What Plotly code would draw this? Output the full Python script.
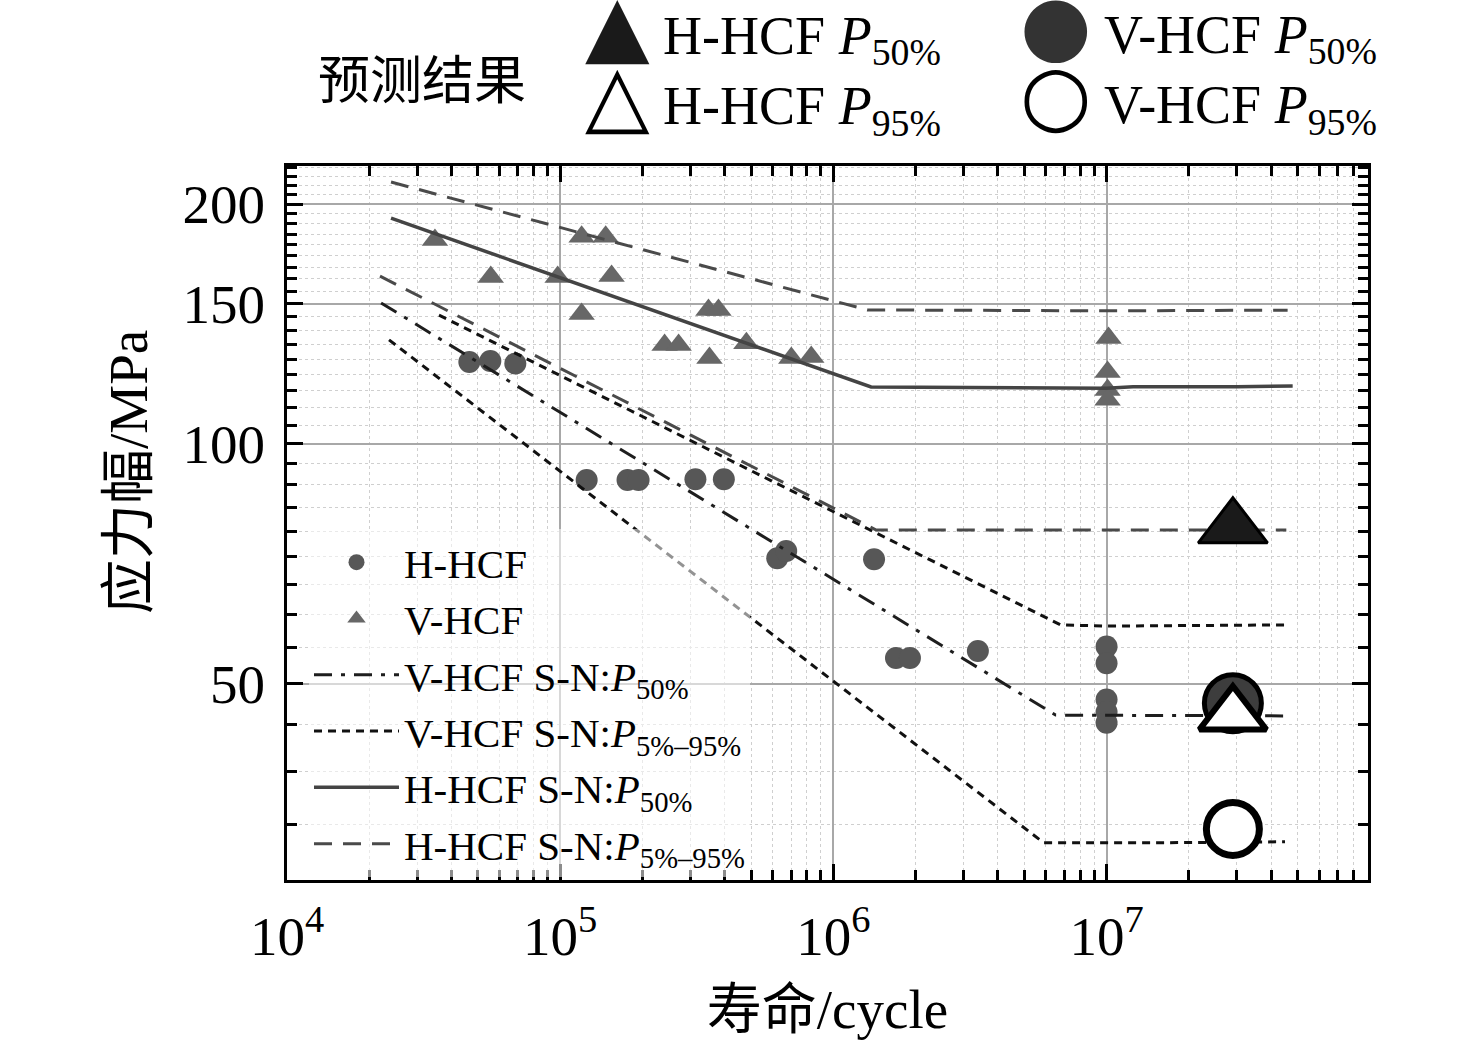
import plotly.graph_objects as go

# ---------------- data ----------------
# scatter labelled "H-HCF" (circles)
h_hcf_life = [46500, 55500, 68500, 125000, 176400, 193600, 312600, 397200,
              623000, 672000, 1409000, 1695000, 1907000, 3380000,
              1.0e7, 1.0e7, 1.0e7, 1.0e7, 1.0e7]
h_hcf_stress = [126.7, 127.1, 126.2, 90.1, 90.1, 90.1, 90.3, 90.3,
                71.9, 73.4, 71.7, 53.9, 53.9, 55.0,
                55.7, 53.1, 47.8, 46.1, 44.7]

# scatter labelled "V-HCF" (triangles)
v_hcf_life = [34800, 55700, 97900, 119800, 146700, 154200, 119800, 349000,
              379600, 241100, 271300, 351900, 480400, 701500, 829900,
              1.017e7, 1.0085e7, 1.0085e7, 1.0085e7]
v_hcf_stress = [180.3, 162.0, 162.0, 181.9, 181.9, 162.4, 145.6, 147.3,
                147.3, 133.1, 133.1, 128.2, 133.8, 128.2, 128.6,
                135.8, 123.1, 116.9, 113.6]

# S-N curves
v_p50_life = [22100, 6510000, 4.43e7]
v_p50_stress = [150.3, 45.7, 45.6]

v_p95_life = [36000, 6790000, 1.0e7, 4.5e7]
v_p95_stress = [145.1, 59.3, 59.1, 59.3]
v_p5_life = [23630, 5890000, 1.4e7, 4.5e7]
v_p5_stress = [135.1, 31.6, 31.6, 31.7]

h_p50_life = [24030, 1374000, 1.0e7, 1.25e7, 3.0e7, 4.8e7]
h_p50_stress = [192.0, 117.9, 117.5, 118.0, 118.0, 118.2]

h_p95_life = [24030, 1330000, 1.0e7, 4.6e7]
h_p95_stress = [213.1, 147.3, 146.9, 147.2]
h_p5_life = [21900, 1435000, 4.55e7]
h_p5_stress = [162.4, 78.0, 78.0]

# predictions
pred_life = 2.9e7
pred_h50 = 78.5
pred_v50 = 47.3
pred_h95 = 45.7
pred_v95 = 32.9

x_major = [1e4, 1e5, 1e6, 1e7]
x_major_text = ["10<sup>4</sup>", "10<sup>5</sup>", "10<sup>6</sup>", "10<sup>7</sup>"]
y_major = [50, 100, 150, 200]
y_major_text = ["50", "100", "150", "200"]

x_minor = [k * 10 ** d for d in range(4, 8) for k in range(2, 10)]
y_minor = [50 / 9 * k for k in range(6, 41) if k % 9 != 0]

SERIF = "Liberation Serif, Times New Roman, DejaVu Sans, serif"
TITLEFONT = "Liberation Serif, Noto Sans CJK SC, serif"

fig = go.Figure()

fig.add_trace(go.Scatter(x=h_hcf_life, y=h_hcf_stress, mode="markers", name="H-HCF",
                         marker=dict(symbol="circle", size=22, color="#575757", line=dict(width=0))))
fig.add_trace(go.Scatter(x=v_hcf_life, y=v_hcf_stress, mode="markers", name="V-HCF",
                         marker=dict(symbol="triangle-up", size=23, color="#676767", line=dict(width=0))))

fig.add_trace(go.Scatter(x=v_p50_life, y=v_p50_stress, mode="lines",
                         name="V-HCF S-N:<i>P</i><sub>50%</sub>",
                         line=dict(color="#1e1e1e", width=3, dash="18px,9px,4px,9px")))
fig.add_trace(go.Scatter(x=v_p95_life, y=v_p95_stress, mode="lines", legendgroup="vp",
                         name="V-HCF S-N:<i>P</i><sub>5%–95%</sub>",
                         line=dict(color="#111111", width=3, dash="8px,6px")))
fig.add_trace(go.Scatter(x=v_p5_life, y=v_p5_stress, mode="lines", legendgroup="vp",
                         showlegend=False, name="V-HCF S-N:<i>P</i><sub>5%</sub>",
                         line=dict(color="#111111", width=3, dash="8px,6px")))
fig.add_trace(go.Scatter(x=h_p50_life, y=h_p50_stress, mode="lines",
                         name="H-HCF S-N:<i>P</i><sub>50%</sub>",
                         line=dict(color="#444444", width=3.5)))
fig.add_trace(go.Scatter(x=h_p95_life, y=h_p95_stress, mode="lines", legendgroup="hp",
                         name="H-HCF S-N:<i>P</i><sub>5%–95%</sub>",
                         line=dict(color="#4a4a4a", width=3, dash="18px,11px")))
fig.add_trace(go.Scatter(x=h_p5_life, y=h_p5_stress, mode="lines", legendgroup="hp",
                         showlegend=False, name="H-HCF S-N:<i>P</i><sub>5%</sub>",
                         line=dict(color="#4a4a4a", width=3, dash="18px,11px")))

# prediction results
fig.add_trace(go.Scatter(x=[pred_life], y=[pred_h50], mode="markers", showlegend=False,
                         name="H-HCF P50%",
                         marker=dict(symbol="triangle-up", size=60, color="#1a1a1a",
                                     line=dict(color="black", width=3))))
fig.add_trace(go.Scatter(x=[pred_life], y=[pred_v50], mode="markers", showlegend=False,
                         name="V-HCF P50%",
                         marker=dict(symbol="circle", size=57, color="#3d3d3d",
                                     line=dict(color="black", width=5))))
fig.add_trace(go.Scatter(x=[pred_life], y=[pred_h95], mode="markers", showlegend=False,
                         name="H-HCF P95%",
                         marker=dict(symbol="triangle-up", size=58, color="white",
                                     line=dict(color="black", width=6))))
fig.add_trace(go.Scatter(x=[pred_life], y=[pred_v95], mode="markers", showlegend=False,
                         name="V-HCF P95%",
                         marker=dict(symbol="circle", size=53, color="white",
                                     line=dict(color="black", width=7))))

axis_common = dict(
    type="log", showline=True, linecolor="black", linewidth=3, mirror="allticks",
    ticks="inside", ticklen=16, tickwidth=2.5, tickcolor="black",
    showgrid=True, gridcolor="#a8a8a8", gridwidth=2,
    tickfont=dict(family=SERIF, size=55, color="black"),
    zeroline=False,
)

fig.update_xaxes(
    **axis_common,
    range=[4, 7.957],
    tickmode="array", tickvals=x_major, ticktext=x_major_text,
    minor=dict(tickmode="array", tickvals=x_minor, ticks="inside", ticklen=10,
               tickwidth=2.5, tickcolor="black", showgrid=True,
               gridcolor="#cfcfcf", gridwidth=1, griddash="dot"),
    ticklabelstandoff=6,
    title=dict(text="寿命/cycle", font=dict(family=TITLEFONT, size=55, color="black"),
               standoff=24),
)
fig.update_yaxes(
    **axis_common,
    range=[1.4531, 2.3487],
    tickmode="array", tickvals=y_major, ticktext=y_major_text,
    minor=dict(tickmode="array", tickvals=y_minor, ticks="inside", ticklen=10,
               tickwidth=2.5, tickcolor="black", showgrid=True,
               gridcolor="#cfcfcf", gridwidth=1, griddash="dot"),
    ticklabelstandoff=8,
)

# layout helpers: pixel -> paper fraction (plot area 287..1368 x 166..880)
X0, X1, Y0, Y1 = 287.0, 1368.0, 166.0, 880.0
def px(x):
    return (x - X0) / (X1 - X0)
def py(y):
    return (Y1 - y) / (Y1 - Y0)

G = '<span style="font-family:DejaVu Sans;font-size:{s}px;color:{c}">{g}</span>'
key_left = (G.format(s=84, c="#1a1a1a", g="▲") + " H-HCF <i>P</i><sub>50%</sub><br>"
            + G.format(s=84, c="black", g="△") + " H-HCF <i>P</i><sub>95%</sub>")
key_right = (G.format(s=82, c="#333333", g="●") + " V-HCF <i>P</i><sub>50%</sub><br>"
             + G.format(s=82, c="black", g="○") + " V-HCF <i>P</i><sub>95%</sub>")

annots = [
    dict(text="应力幅/MPa", x=px(128), y=py(472), textangle=-90,
         font=dict(family=TITLEFONT, size=55)),
    dict(text="预测结果", x=px(422), y=py(82), font=dict(family=TITLEFONT, size=52)),
    dict(text=key_left, x=px(583), y=py(60), xanchor="left", align="left",
         font=dict(family=SERIF, size=54)),
    dict(text=key_right, x=px(1018), y=py(60), xanchor="left", align="left",
         font=dict(family=SERIF, size=54)),
]
for a in annots:
    a.setdefault("xanchor", "center")
    a.setdefault("yanchor", "middle")
    a["font"].setdefault("color", "black")
    fig.add_annotation(xref="paper", yref="paper", showarrow=False, **a)

fig.update_layout(
    width=1476, height=1043,
    margin=dict(l=287, r=108, t=166, b=163),
    paper_bgcolor="white", plot_bgcolor="white",
    font=dict(family=SERIF, color="black"),
    legend=dict(x=px(309), y=py(529), xanchor="left", yanchor="top",
                bgcolor="rgba(255,255,255,0.55)", borderwidth=0, itemwidth=85,
                font=dict(family=SERIF, size=41, color="black"),
                tracegroupgap=0),
)

fig.write_html("out.html", config={"displayModeBar": False},
               post_script="document.body.style.margin='0px';")
